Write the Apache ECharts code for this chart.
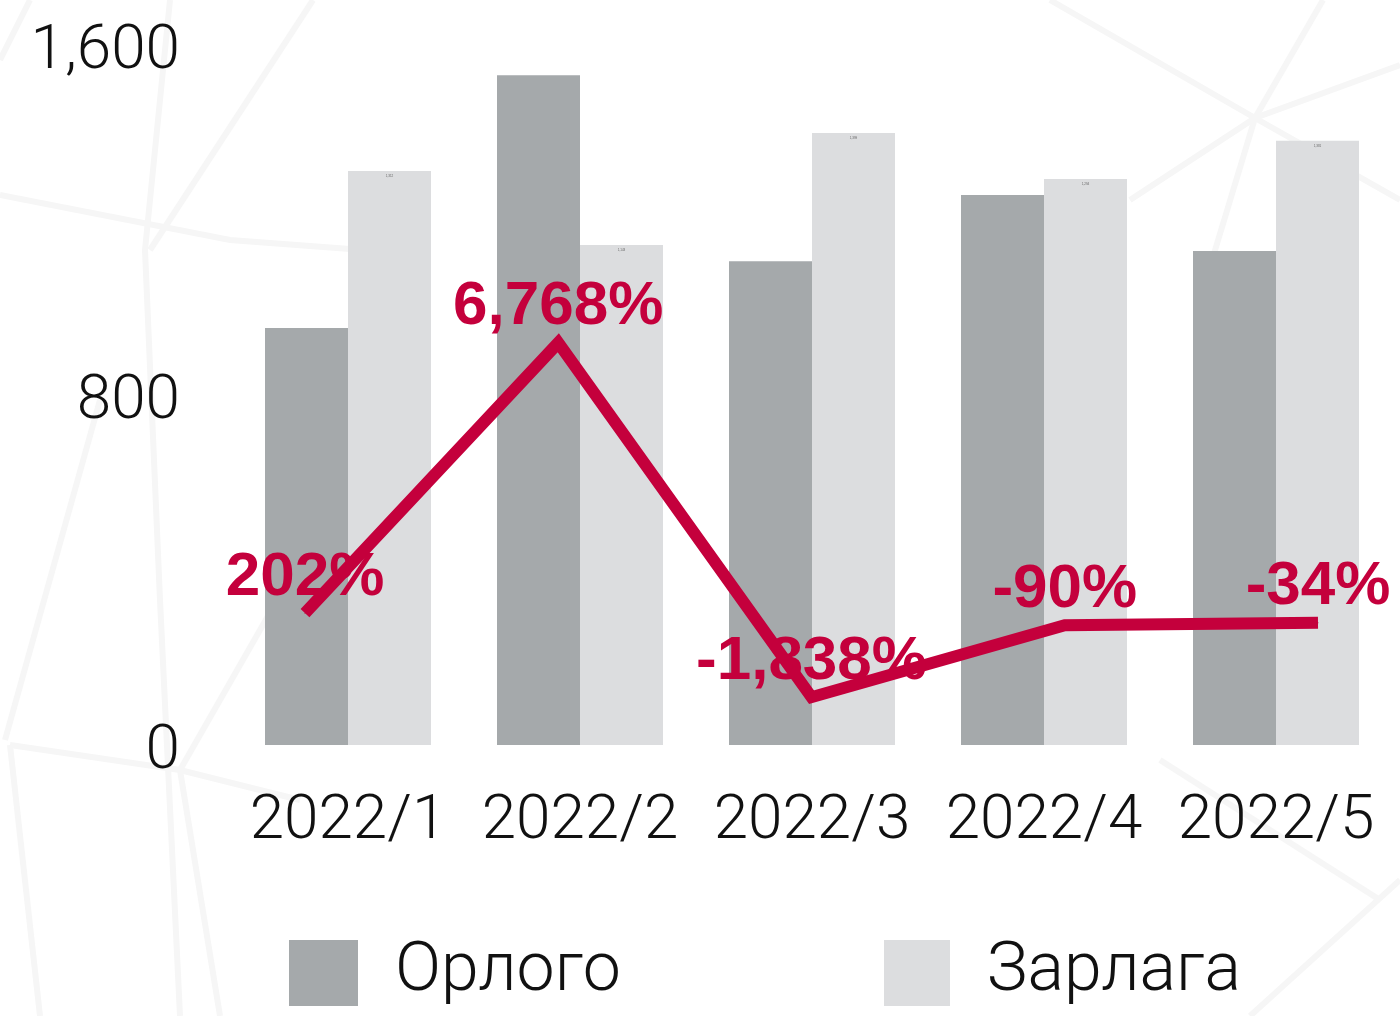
<!DOCTYPE html>
<html>
<head>
<meta charset="utf-8">
<style>html,body{margin:0;padding:0;background:#fff}#c{width:1400px;height:1016px}</style>
<script src="https://cdn.jsdelivr.net/npm/echarts@6/dist/echarts.min.js"></script>
</head>
<body>
<div id="c"></div>
<script>
var categories = ['2022/1', '2022/2', '2022/3', '2022/4', '2022/5'];
var inflow = [953, 1531, 1106, 1257, 1129];      // Орлого
var outflow = [1312, 1143, 1399, 1294, 1381];    // Зарлага
var changePct = [202, 6768, -1838, -90, -34];    // %
var yTicks = [0, 800, 1600];

function fmt(v) { return String(v).replace(/\B(?=(\d{3})+(?!\d))/g, ','); }

var bgLines = [
  [[170,0],[145,250],[160,600],[180,1016]],
  [[313,0],[150,250]],
  [[0,195],[230,240],[430,255]],
  [[30,0],[0,60]],
  [[100,400],[5,740]],
  [[10,745],[180,770],[300,800]],
  [[180,770],[300,560]],
  [[10,745],[40,1016]],
  [[180,770],[220,1016]],
  [[1050,0],[1255,118],[1400,200]],
  [[1323,0],[1255,118],[1200,300]],
  [[1400,65],[1255,118],[1130,200]],
  [[1400,880],[1250,1016]],
  [[1160,760],[1380,900]]
];
var graphics = bgLines.map(function (pts) {
  return { type: 'polyline', z: -10, silent: true, shape: { points: pts },
    style: { stroke: '#f6f6f6', lineWidth: 6, fill: null } };
});

var axisFont = { fontSize: 62, fontWeight: 300, fontFamily: 'Roboto', color: '#111' };

var chart = echarts.init(document.getElementById('c'));
chart.setOption({
  backgroundColor: '#ffffff',
  animation: false,
  graphic: graphics,
  legend: [
    { data: ['Орлого'], left: 284, top: 934, itemWidth: 69, itemHeight: 66, icon: 'rect',
      textStyle: { fontSize: 68, fontWeight: 300, fontFamily: 'Roboto', color: '#111', padding: [4, 0, 0, 32] } },
    { data: ['Зарлага'], left: 879, top: 934, itemWidth: 66, itemHeight: 66, icon: 'rect',
      textStyle: { fontSize: 68, fontWeight: 300, fontFamily: 'Roboto', color: '#111', padding: [4, 0, 0, 32] } }
  ],
  grid: [
    { left: 232, right: 8, top: 45, bottom: 271 },
    { left: 305, right: 82, top: 45, bottom: 271 }
  ],
  xAxis: [
    { type: 'category', gridIndex: 0, data: categories,
      axisLine: { show: false }, axisTick: { show: false },
      axisLabel: Object.assign({ interval: 0, margin: 46 }, axisFont) },
    { type: 'category', gridIndex: 1, data: categories, boundaryGap: false, show: false }
  ],
  yAxis: [
    { type: 'value', gridIndex: 0, min: yTicks[0], max: yTicks[2], interval: yTicks[1] - yTicks[0],
      splitLine: { show: false }, axisLine: { show: false }, axisTick: { show: false },
      axisLabel: { margin: 52,
        formatter: function (v) { return '{a|' + fmt(v) + '}'; },
        rich: { a: Object.assign({ padding: [14, 0, 0, 0] }, axisFont) } } },
    { type: 'value', gridIndex: 1, min: -3000, max: 14000, show: false, splitLine: { show: false } }
  ],
  series: [
    { name: 'Орлого', type: 'bar', xAxisIndex: 0, yAxisIndex: 0, data: inflow,
      barWidth: 83, barGap: '0%', itemStyle: { color: '#a5a9ab' } },
    { name: 'Зарлага', type: 'bar', xAxisIndex: 0, yAxisIndex: 0, data: outflow,
      barWidth: 83, barGap: '0%', itemStyle: { color: '#dcdddf' },
      label: { show: true, position: 'insideTop', distance: 4, fontSize: 3, color: '#666',
        formatter: function (p) { return fmt(p.value); } } },
    { name: 'Өөрчлөлт', type: 'line', xAxisIndex: 1, yAxisIndex: 1, data: changePct,
      symbol: 'circle', symbolSize: 1, z: 5,
      lineStyle: { color: '#c4003c', width: 12, cap: 'butt', join: 'miter' },
      itemStyle: { color: '#c4003c' },
      label: { show: true, position: 'top', distance: 4, fontSize: 62, fontWeight: 'bold',
        fontFamily: 'Liberation Sans', color: '#c4003c',
        formatter: function (p) { return (p.value < 0 ? '-' : '') + fmt(Math.abs(p.value)) + '%'; } } }
  ]
});
</script>
</body>
</html>
